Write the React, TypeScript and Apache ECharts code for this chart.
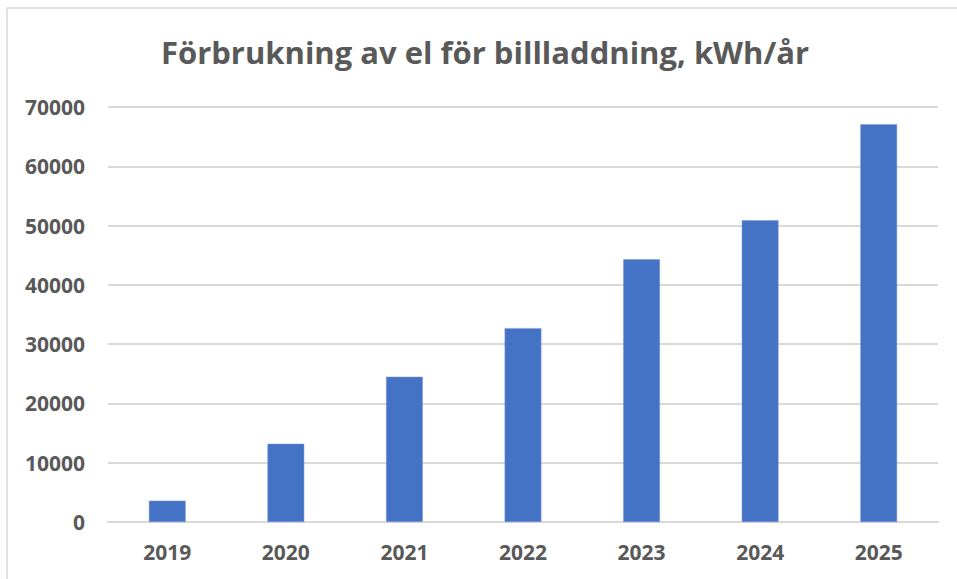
import React, { useEffect, useRef } from "react";
import * as echarts from "echarts";

const title = "Förbrukning av el för billladdning, kWh/år";
const categories = ["2019", "2020", "2021", "2022", "2023", "2024", "2025"];
const values = [3600, 13200, 24500, 32700, 44300, 50900, 67100];
const yTicks = { min: 0, max: 70000, interval: 10000 };

export default function App() {
  const ref = useRef<HTMLDivElement>(null);
  useEffect(() => {
    document.body.style.margin = "0";
    const chart = echarts.init(ref.current!, null, { renderer: "svg" });
    const font = "'Open Sans', 'Liberation Sans', sans-serif";
    chart.setOption({
      animation: false,
      backgroundColor: "#ffffff",
      graphic: [
        {
          type: "rect",
          shape: { x: 7, y: 8, width: 1000, height: 1000 },
          style: { fill: "none", stroke: "#d9d9d9", lineWidth: 1.5 },
          silent: true,
        },
        {
          type: "text",
          x: 485,
          y: 52,
          style: {
            text: title,
            fill: "#595959",
            font: `bold 31px ${font}`,
            textAlign: "center",
            textVerticalAlign: "middle",
          },
        },
      ],
      grid: { left: 108, right: 19, top: 107, bottom: 57, containLabel: false },
      xAxis: {
        type: "category",
        data: categories,
        axisLine: { show: true, lineStyle: { color: "#d9d9d9", width: 2 } },
        axisTick: { show: false },
        axisLabel: {
          color: "#595959",
          fontFamily: font,
          fontWeight: "bold",
          fontSize: 21,
          margin: 19,
        },
      },
      yAxis: {
        type: "value",
        min: yTicks.min,
        max: yTicks.max,
        interval: yTicks.interval,
        axisLine: { show: false },
        axisTick: { show: false },
        splitLine: { lineStyle: { color: "#d9d9d9", width: 2 } },
        axisLabel: {
          color: "#595959",
          fontFamily: font,
          fontWeight: "bold",
          fontSize: 21,
          margin: 23,
          formatter: (v: number) => String(v),
        },
      },
      series: [
        {
          type: "bar",
          data: values,
          barWidth: "31%",
          itemStyle: { color: "#4472C4", borderColor: "#7a9bd6", borderWidth: 0.5 },
        },
      ],
    });
    return () => chart.dispose();
  }, []);
  return <div ref={ref} style={{ width: 957, height: 579 }} />;
}
